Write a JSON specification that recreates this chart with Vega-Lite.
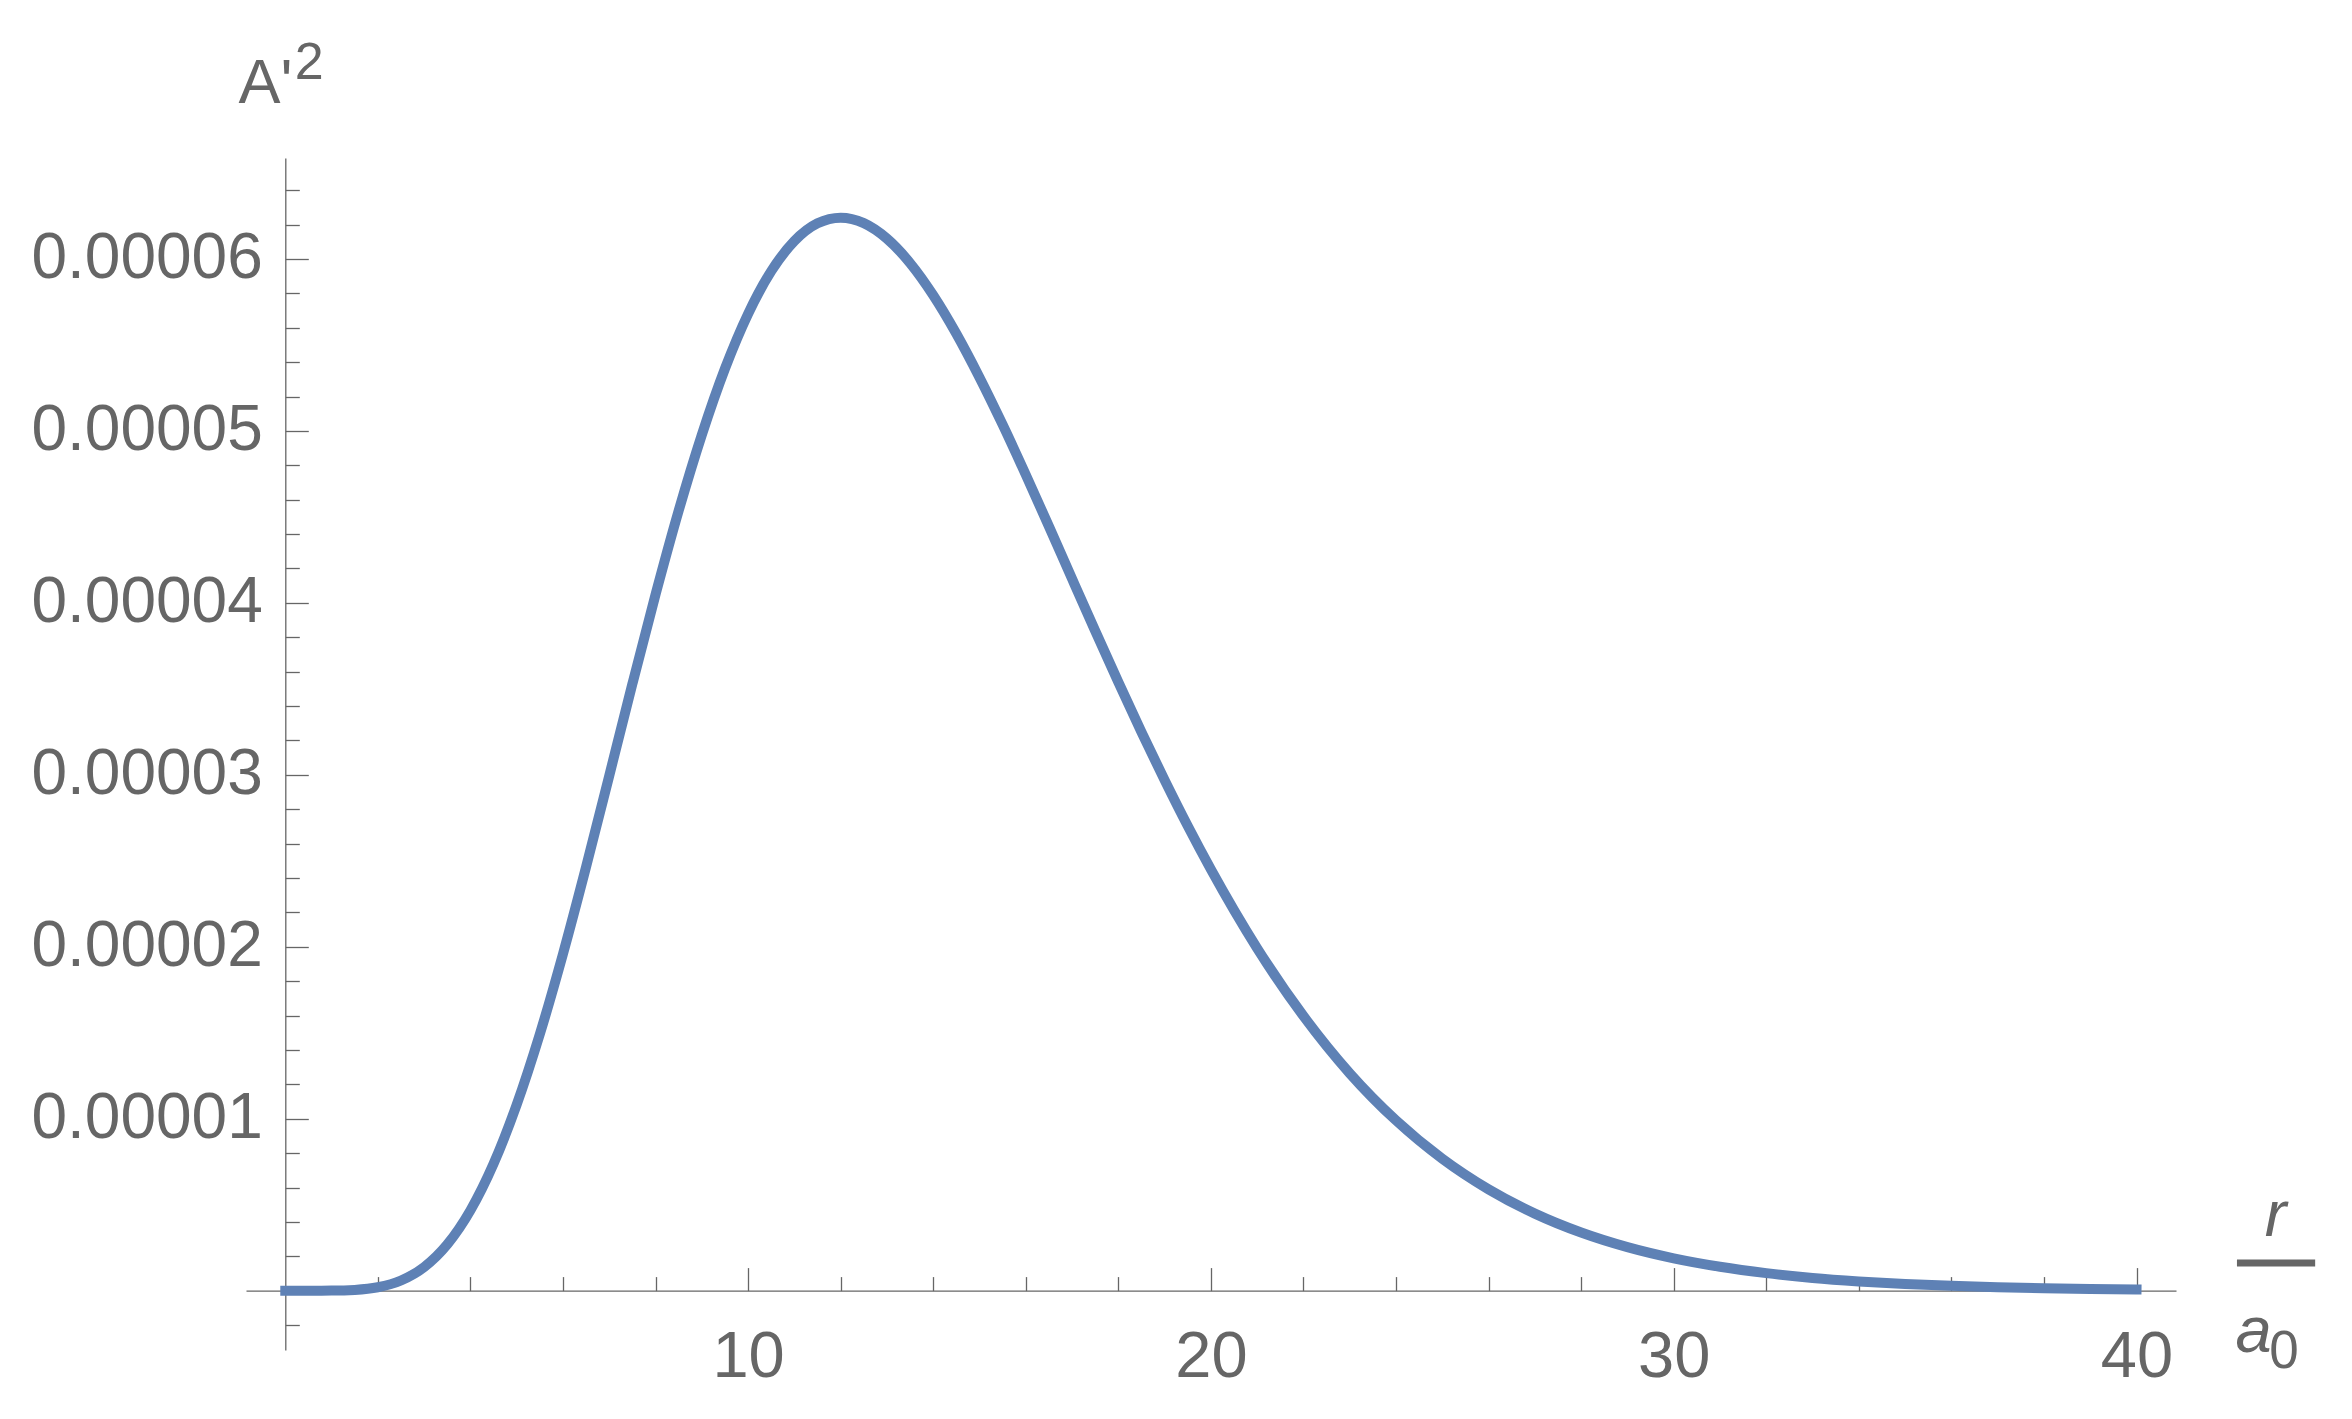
{
  "$schema": "https://vega.github.io/schema/vega-lite/v6.json",
  "width": 1930,
  "height": 1192,
  "autosize": {"type": "none"},
  "padding": {"left": 246, "top": 158, "right": 176, "bottom": 69},
  "background": "white",
  "config": {
    "view": {"stroke": null},
    "axis": {
      "domainColor": "#666666", "tickColor": "#666666", "labelColor": "#666666", "titleColor": "#666666",
      "labelFont": "Liberation Sans", "titleFont": "Liberation Sans", "grid": false,
      "domainWidth": 1.3, "tickWidth": 1.3, "zindex": 1, "labelFlush": false, "labelOverlap": false,
      "titleFontWeight": "normal", "labelLimit": 1000, "titleLimit": 1000
    }
  },
  "data": {"values": [
    {"r": 0, "A": 0}, {"r": 0.5, "A": 1e-10}, {"r": 1, "A": 5e-9}, {"r": 1.5, "A": 4.5e-8},
    {"r": 2, "A": 1.98e-7}, {"r": 2.5, "A": 5.9e-7}, {"r": 3, "A": 1.37e-6}, {"r": 3.5, "A": 2.69e-6},
    {"r": 4, "A": 4.67e-6}, {"r": 4.5, "A": 7.38e-6}, {"r": 5, "A": 1.082e-5}, {"r": 5.5, "A": 1.492e-5},
    {"r": 6, "A": 1.958e-5}, {"r": 6.5, "A": 2.465e-5}, {"r": 7, "A": 2.995e-5}, {"r": 7.5, "A": 3.529e-5},
    {"r": 8, "A": 4.048e-5}, {"r": 8.5, "A": 4.536e-5}, {"r": 9, "A": 4.977e-5}, {"r": 9.5, "A": 5.362e-5},
    {"r": 10, "A": 5.681e-5}, {"r": 10.5, "A": 5.929e-5}, {"r": 11, "A": 6.104e-5}, {"r": 11.5, "A": 6.207e-5},
    {"r": 12, "A": 6.24e-5}, {"r": 12.5, "A": 6.208e-5}, {"r": 13, "A": 6.118e-5}, {"r": 13.5, "A": 5.976e-5},
    {"r": 14, "A": 5.789e-5}, {"r": 14.5, "A": 5.565e-5}, {"r": 15, "A": 5.311e-5}, {"r": 15.5, "A": 5.036e-5},
    {"r": 16, "A": 4.745e-5}, {"r": 16.5, "A": 4.445e-5}, {"r": 17, "A": 4.14e-5}, {"r": 17.5, "A": 3.837e-5},
    {"r": 18, "A": 3.539e-5}, {"r": 18.5, "A": 3.248e-5}, {"r": 19, "A": 2.969e-5}, {"r": 19.5, "A": 2.702e-5},
    {"r": 20, "A": 2.45e-5}, {"r": 21, "A": 1.991e-5}, {"r": 22, "A": 1.597e-5}, {"r": 23, "A": 1.264e-5},
    {"r": 24, "A": 9.9e-6}, {"r": 25, "A": 7.67e-6}, {"r": 26, "A": 5.89e-6}, {"r": 27, "A": 4.48e-6},
    {"r": 28, "A": 3.38e-6}, {"r": 29, "A": 2.53e-6}, {"r": 30, "A": 1.88e-6}, {"r": 31, "A": 1.39e-6},
    {"r": 32, "A": 1.02e-6}, {"r": 33, "A": 7.4e-7}, {"r": 34, "A": 5.4e-7}, {"r": 35, "A": 3.9e-7},
    {"r": 36, "A": 2.8e-7}, {"r": 37, "A": 2.0e-7}, {"r": 38, "A": 1.4e-7}, {"r": 39, "A": 1.0e-7},
    {"r": 40, "A": 7e-8}
  ]},
  "layer": [
    {
      "mark": {"type": "line", "color": "#5E81B5", "strokeWidth": 10, "strokeCap": "square", "interpolate": "monotone"},
      "encoding": {
        "x": {"field": "r", "type": "quantitative",
          "scale": {"domain": [-0.849, 40.853], "nice": false, "zero": false},
          "axis": {"orient": "bottom", "offset": -59.4, "values": [10, 20, 30, 40], "tickSize": -23,
            "labelFontSize": 65, "labelPadding": 58,
            "title": "r", "titleFontStyle": "italic", "titleFontSize": 65,
            "titleX": 2029, "titleY": -55.3, "titleAlign": "center", "titleBaseline": "alphabetic"}},
        "y": {"field": "A", "type": "quantitative",
          "scale": {"domain": [-0.00000345, 0.00006587], "nice": false, "zero": false},
          "axis": {"orient": "left", "offset": -39.3,
            "values": [0.00001, 0.00002, 0.00003, 0.00004, 0.00005, 0.00006], "format": ".5f",
            "tickSize": -23, "labelFontSize": 64, "labelPadding": 46,
            "title": "A'", "titleAngle": 0, "titleFontSize": 63,
            "titleX": -47.3, "titleY": -55.3, "titleAlign": "left", "titleBaseline": "alphabetic"}}
      }
    },
    {
      "mark": {"type": "line", "opacity": 0},
      "encoding": {
        "x": {"field": "r", "type": "quantitative",
          "axis": {"orient": "bottom", "offset": -59.4,
            "values": [2, 4, 6, 8, 12, 14, 16, 18, 22, 24, 26, 28, 32, 34, 36, 38],
            "tickSize": -14, "labels": false, "domain": false,
            "title": "a", "titleFontStyle": "italic", "titleFontSize": 65,
            "titleX": 2007, "titleY": 60.7, "titleAlign": "center", "titleBaseline": "alphabetic"}},
        "y": {"field": "A", "type": "quantitative",
          "axis": {"orient": "left", "offset": -39.3,
            "values": [-0.000002, 0.000002, 0.000004, 0.000006, 0.000008, 0.000012, 0.000014, 0.000016, 0.000018, 0.000022, 0.000024, 0.000026, 0.000028, 0.000032, 0.000034, 0.000036, 0.000038, 0.000042, 0.000044, 0.000046, 0.000048, 0.000052, 0.000054, 0.000056, 0.000058, 0.000062, 0.000064],
            "tickSize": -14, "labels": false, "domain": false,
            "title": "2", "titleAngle": 0, "titleFontSize": 52,
            "titleX": 9, "titleY": -79.3, "titleAlign": "left", "titleBaseline": "alphabetic"}}
      }
    },
    {
      "mark": {"type": "line", "opacity": 0},
      "encoding": {
        "x": {"field": "r", "type": "quantitative",
          "axis": {"orient": "bottom", "offset": -59.4, "values": [], "ticks": false, "labels": false, "domain": false,
            "title": "0", "titleFontSize": 53,
            "titleX": 2037.5, "titleY": 76.7, "titleAlign": "center", "titleBaseline": "alphabetic"}},
        "y": {"field": "A", "type": "quantitative", "axis": null}
      }
    },
    {
      "data": {"values": [{}]},
      "mark": {"type": "rule", "color": "#666666", "strokeWidth": 7},
      "encoding": {
        "x": {"datum": 42.17, "type": "quantitative", "axis": null},
        "x2": {"datum": 43.86},
        "y": {"datum": 0.000001616, "type": "quantitative", "axis": null}
      }
    }
  ],
  "resolve": {"axis": {"x": "independent", "y": "independent"}}
}
